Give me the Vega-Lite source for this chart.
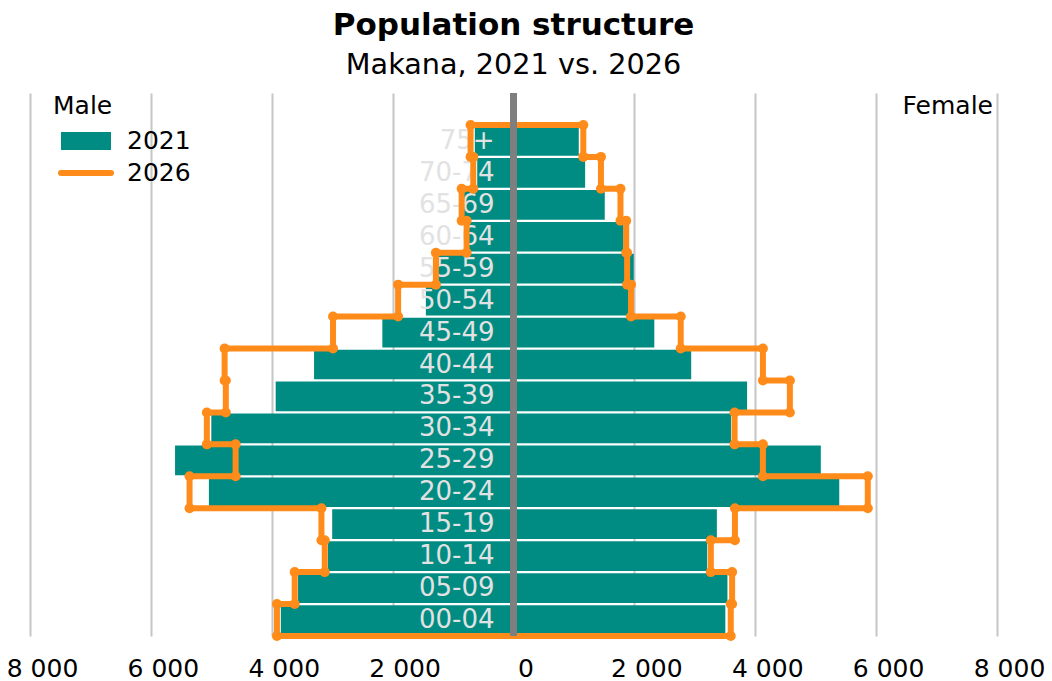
{
  "$schema": "https://vega.github.io/schema/vega-lite/v6.json",
  "width": 967,
  "height": 543,
  "autosize": {"type": "none"},
  "padding": {"left": 30, "top": 93, "right": 55, "bottom": 45},
  "background": "white",
  "config": {"view": {"stroke": null}, "font": "DejaVu Sans"},
  "title": {
    "text": "Population structure",
    "subtitle": "\u00a0\u00a0Makana, 2021 vs. 2026",
    "anchor": "middle",
    "frame": "group",
    "font": "DejaVu Sans",
    "fontSize": 31,
    "fontWeight": "bold",
    "color": "#000000",
    "subtitleFont": "DejaVu Sans",
    "subtitleFontSize": 28.7,
    "subtitleColor": "#000000",
    "subtitlePadding": 9,
    "offset": 9
  },
  "data": {
    "values": [
      {"age": "75+", "male2021": 640, "female2021": 1080, "male2026": 710, "female2026": 1155},
      {"age": "70-74", "male2021": 600, "female2021": 1185, "male2026": 666, "female2026": 1447},
      {"age": "65-69", "male2021": 820, "female2021": 1510, "male2026": 858, "female2026": 1770},
      {"age": "60-64", "male2021": 770, "female2021": 1820, "male2026": 776, "female2026": 1865},
      {"age": "55-59", "male2021": 1270, "female2021": 1990, "male2026": 1284, "female2026": 1880},
      {"age": "50-54", "male2021": 1450, "female2021": 1905, "male2026": 1909, "female2026": 1945},
      {"age": "45-49", "male2021": 2170, "female2021": 2330, "male2026": 2986, "female2026": 2767},
      {"age": "40-44", "male2021": 3300, "female2021": 2940, "male2026": 4780, "female2026": 4127},
      {"age": "35-39", "male2021": 3935, "female2021": 3865, "male2026": 4760, "female2026": 4573},
      {"age": "30-34", "male2021": 5000, "female2021": 3600, "male2026": 5074, "female2026": 3658},
      {"age": "25-29", "male2021": 5600, "female2021": 5085, "male2026": 4598, "female2026": 4127},
      {"age": "20-24", "male2021": 5040, "female2021": 5390, "male2026": 5360, "female2026": 5862},
      {"age": "15-19", "male2021": 3000, "female2021": 3365, "male2026": 3178, "female2026": 3664},
      {"age": "10-14", "male2021": 3070, "female2021": 3205, "male2026": 3123, "female2026": 3265},
      {"age": "05-09", "male2021": 3565, "female2021": 3540, "male2026": 3620, "female2026": 3617},
      {"age": "00-04", "male2021": 3850, "female2021": 3505, "male2026": 3914, "female2026": 3595}
    ]
  },
  "resolve": {"scale": {"x": "independent"}},
  "layer": [
    {
      "layer": [
        {
          "mark": {"type": "bar", "height": {"band": 0.93}},
          "encoding": {
            "y": {"field": "age", "type": "nominal", "axis": null,
              "scale": {"domain": [" ", "75+", "70-74", "65-69", "60-64", "55-59", "50-54", "45-49", "40-44", "35-39", "30-34", "25-29", "20-24", "15-19", "10-14", "05-09", "00-04"], "paddingInner": 0, "paddingOuter": 0}},
            "x": {"field": "male2021", "type": "quantitative", "axis": null, "scale": {"domain": [-8000, 8000], "reverse": true, "nice": false, "zero": false}},
            "color": {"datum": "2021", "type": "nominal",
              "scale": {"domain": ["2021", "2026"], "range": ["#008C82", "#FF8C1A"]},
              "legend": {
                "title": null, "orient": "none", "legendX": 43, "legendY": 35,
                "symbolSize": 400, "labelFontSize": 25, "labelFont": "DejaVu Sans", "labelColor": "#000000",
                "labelOffset": 28, "rowPadding": 1, "padding": 0,
                "encode": {"symbols": {"update": {
                  "shape": {"signal": "datum.value === '2021' ? 'M-2.2,-0.6H2.2V0.6H-2.2Z' : 'M-2.5,0H2.5'"},
                  "fill": {"signal": "datum.value === '2021' ? '#008C82' : 'transparent'"},
                  "stroke": {"signal": "datum.value === '2021' ? 'transparent' : '#FF8C1A'"},
                  "strokeWidth": {"value": 6},
                  "strokeCap": {"value": "round"},
                  "opacity": {"value": 1},
                  "fillOpacity": {"value": 1},
                  "strokeOpacity": {"value": 1}
                }}}
              }}
          }
        },
        {
          "mark": {"type": "text", "align": "right", "baseline": "middle", "dx": -19, "fontSize": 26, "font": "DejaVu Sans", "color": "#e2e2e2"},
          "encoding": {
            "y": {"field": "age", "type": "nominal", "axis": null},
            "x": {"datum": 0, "type": "quantitative", "axis": null},
            "text": {"field": "age"}
          }
        },
        {
          "mark": {"type": "rule", "strokeWidth": 6, "strokeCap": "round"},
          "encoding": {
            "y": {"field": "age", "type": "nominal", "bandPosition": 0, "axis": null},
            "y2": {"field": "age", "bandPosition": 1},
            "x": {"field": "male2026", "type": "quantitative", "axis": null},
            "color": {"datum": "2026", "type": "nominal"}
          }
        },
        {
          "transform": [
            {"window": [{"op": "lead", "field": "male2026", "as": "maleNext"}], "sort": [{"field": "age", "order": "ascending"}]},
            {"filter": "datum.maleNext != null"}
          ],
          "mark": {"type": "rule", "strokeWidth": 6, "strokeCap": "round"},
          "encoding": {
            "y": {"field": "age", "type": "nominal", "bandPosition": 0, "axis": null},
            "x": {"field": "male2026", "type": "quantitative", "axis": null},
            "x2": {"field": "maleNext"},
            "color": {"datum": "2026", "type": "nominal"}
          }
        },
        {
          "transform": [{"filter": "datum.age === '75+'"}],
          "mark": {"type": "rule", "strokeWidth": 6, "strokeCap": "round"},
          "encoding": {
            "y": {"field": "age", "type": "nominal", "bandPosition": 0, "axis": null},
            "x": {"field": "male2026", "type": "quantitative", "axis": null},
            "x2": {"datum": 0},
            "color": {"datum": "2026", "type": "nominal"}
          }
        },
        {
          "transform": [{"filter": "datum.age === '00-04'"}],
          "mark": {"type": "rule", "strokeWidth": 6, "strokeCap": "round"},
          "encoding": {
            "y": {"field": "age", "type": "nominal", "bandPosition": 1, "axis": null},
            "x": {"field": "male2026", "type": "quantitative", "axis": null},
            "x2": {"datum": 0},
            "color": {"datum": "2026", "type": "nominal"}
          }
        },
        {
          "mark": {"type": "point", "filled": true, "size": 100, "opacity": 1},
          "encoding": {
            "y": {"field": "age", "type": "nominal", "bandPosition": 0, "axis": null},
            "x": {"field": "male2026", "type": "quantitative", "axis": null},
            "color": {"datum": "2026", "type": "nominal"}
          }
        },
        {
          "mark": {"type": "point", "filled": true, "size": 100, "opacity": 1},
          "encoding": {
            "y": {"field": "age", "type": "nominal", "bandPosition": 1, "axis": null},
            "x": {"field": "male2026", "type": "quantitative", "axis": null},
            "color": {"datum": "2026", "type": "nominal"}
          }
        }
      ]
    },
    {
      "layer": [
        {
          "mark": {"type": "bar", "height": {"band": 0.93}},
          "encoding": {
            "y": {"field": "age", "type": "nominal", "axis": null},
            "x": {"field": "female2021", "type": "quantitative",
              "scale": {"domain": [-8000, 8000], "nice": false, "zero": false},
              "axis": {
                "orient": "bottom", "title": null,
                "values": [-8000, -6000, -4000, -2000, 0, 2000, 4000, 6000, 8000],
                "labelExpr": "replace(format(abs(datum.value), ','), ',', ' ')",
                "labelFontSize": 25, "labelFont": "DejaVu Sans", "labelColor": "#000000",
                "labelPadding": 20, "labelOffset": 12, "labelFlush": false, "labelOverlap": false,
                "ticks": false, "domain": false,
                "grid": true, "gridColor": "#c6c6c6", "gridWidth": 2
              }},
            "color": {"datum": "2021", "type": "nominal"}
          }
        },
        {
          "mark": {"type": "rule", "strokeWidth": 6, "strokeCap": "round"},
          "encoding": {
            "y": {"field": "age", "type": "nominal", "bandPosition": 0, "axis": null},
            "y2": {"field": "age", "bandPosition": 1},
            "x": {"field": "female2026", "type": "quantitative"},
            "color": {"datum": "2026", "type": "nominal"}
          }
        },
        {
          "transform": [
            {"window": [{"op": "lead", "field": "female2026", "as": "femaleNext"}], "sort": [{"field": "age", "order": "ascending"}]},
            {"filter": "datum.femaleNext != null"}
          ],
          "mark": {"type": "rule", "strokeWidth": 6, "strokeCap": "round"},
          "encoding": {
            "y": {"field": "age", "type": "nominal", "bandPosition": 0, "axis": null},
            "x": {"field": "female2026", "type": "quantitative"},
            "x2": {"field": "femaleNext"},
            "color": {"datum": "2026", "type": "nominal"}
          }
        },
        {
          "transform": [{"filter": "datum.age === '75+'"}],
          "mark": {"type": "rule", "strokeWidth": 6, "strokeCap": "round"},
          "encoding": {
            "y": {"field": "age", "type": "nominal", "bandPosition": 0, "axis": null},
            "x": {"field": "female2026", "type": "quantitative"},
            "x2": {"datum": 0},
            "color": {"datum": "2026", "type": "nominal"}
          }
        },
        {
          "transform": [{"filter": "datum.age === '00-04'"}],
          "mark": {"type": "rule", "strokeWidth": 6, "strokeCap": "round"},
          "encoding": {
            "y": {"field": "age", "type": "nominal", "bandPosition": 1, "axis": null},
            "x": {"field": "female2026", "type": "quantitative"},
            "x2": {"datum": 0},
            "color": {"datum": "2026", "type": "nominal"}
          }
        },
        {
          "mark": {"type": "point", "filled": true, "size": 100, "opacity": 1},
          "encoding": {
            "y": {"field": "age", "type": "nominal", "bandPosition": 0, "axis": null},
            "x": {"field": "female2026", "type": "quantitative"},
            "color": {"datum": "2026", "type": "nominal"}
          }
        },
        {
          "mark": {"type": "point", "filled": true, "size": 100, "opacity": 1},
          "encoding": {
            "y": {"field": "age", "type": "nominal", "bandPosition": 1, "axis": null},
            "x": {"field": "female2026", "type": "quantitative"},
            "color": {"datum": "2026", "type": "nominal"}
          }
        },
        {
          "data": {"values": [{"label": "Male"}]},
          "mark": {"type": "text", "align": "left", "baseline": "alphabetic", "dx": 23, "dy": 5, "fontSize": 25, "font": "DejaVu Sans", "color": "#000000"},
          "encoding": {
            "y": {"datum": " ", "type": "nominal", "axis": null},
            "x": {"datum": -8000, "type": "quantitative"},
            "text": {"field": "label"}
          }
        },
        {
          "data": {"values": [{"label": "Female"}]},
          "mark": {"type": "text", "align": "right", "baseline": "alphabetic", "dx": -4, "dy": 5, "fontSize": 25, "font": "DejaVu Sans", "color": "#000000"},
          "encoding": {
            "y": {"datum": " ", "type": "nominal", "axis": null},
            "x": {"datum": 8000, "type": "quantitative"},
            "text": {"field": "label"}
          }
        },
        {
          "mark": {"type": "rule", "strokeWidth": 6, "color": "#7f7f7f"},
          "encoding": {
            "x": {"datum": 0, "type": "quantitative"}
          }
        }
      ]
    }
  ]
}
